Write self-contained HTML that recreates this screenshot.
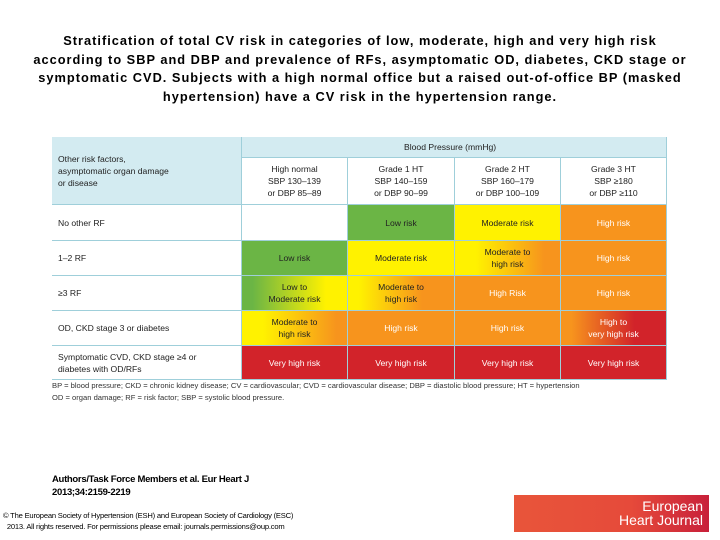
<!DOCTYPE html>
<html><head><meta charset="utf-8"><style>
body{margin:0;width:720px;height:540px;background:#fff;position:relative;overflow:hidden;font-family:"Liberation Sans",sans-serif}
.t{position:absolute;left:0;width:720px;top:32px;text-align:center;font-weight:bold;font-size:12.8px;letter-spacing:1px;line-height:18.5px;color:#000;white-space:nowrap}
.c{position:absolute;box-sizing:border-box;display:flex;align-items:center;justify-content:center;text-align:center;font-size:8.6px;line-height:12px;color:#222;border-right:1px solid #9fcfda;border-bottom:1px solid #9fcfda}
.l{justify-content:flex-start;text-align:left;padding-left:6px}
.w{color:#fff}
.fn{position:absolute;left:52px;font-size:7.6px;color:#333}
</style></head><body>
<div class="t">Stratification of total CV risk in categories of low, moderate, high and very high risk<br>according to SBP and DBP and prevalence of RFs, asymptomatic OD, diabetes, CKD stage or<br>symptomatic CVD. Subjects with a high normal office but a raised out-of-office BP (masked<br>hypertension) have a CV risk in the hypertension range.</div>
<div style="position:absolute;left:52px;top:137px;width:615px;height:243px;border-top:1px solid #9fcfda;border-left:1px solid #9fcfda;box-sizing:border-box"></div>
<div id="tbl"></div>
<div class="fn" style="top:381px">BP = blood pressure; CKD = chronic kidney disease; CV = cardiovascular; CVD = cardiovascular disease; DBP = diastolic blood pressure; HT = hypertension</div>
<div class="fn" style="top:393px">OD = organ damage; RF = risk factor; SBP = systolic blood pressure.</div>
<div style="position:absolute;left:52px;top:473px;font-size:9.5px;font-weight:bold;line-height:13px;letter-spacing:-0.3px">Authors/Task Force Members et al. Eur Heart J<br>2013;34:2159-2219</div>
<div style="position:absolute;left:3px;top:510px;font-size:7.6px;line-height:11px;letter-spacing:-0.2px">© The European Society of Hypertension (ESH) and European Society of Cardiology (ESC)<br>&nbsp;&nbsp;2013. All rights reserved. For permissions please email: journals.permissions@oup.com</div>
<div style="position:absolute;left:514px;top:495px;width:195px;height:37px;background:linear-gradient(90deg,#e8553a,#e64a3a 60%,#c8203a);color:#fff;font-size:14px;line-height:14px;text-align:right;box-sizing:border-box;padding:4px 6px 0 0">European<br>Heart Journal</div>
<script>
const cols=[52,242,348,455,561,667];
const rows=[158,205,241,276,311,346,380];
const G='#6bb545',Y='#fff200',O='#f7941d',R='#d2232a';
const rowLabels=['No other RF','1–2 RF','≥3 RF','OD, CKD stage 3 or diabetes','Symptomatic CVD, CKD stage ≥4 or<br>diabetes with OD/RFs'];
const colHeads=['High normal<br>SBP 130–139<br>or DBP 85–89','Grade 1 HT<br>SBP 140–159<br>or DBP 90–99','Grade 2 HT<br>SBP 160–179<br>or DBP 100–109','Grade 3 HT<br>SBP ≥180<br>or DBP ≥110'];
const cells=[
[['','#fff'],['Low risk',G],['Moderate risk',Y],['High risk',O,1]],
[['Low risk',G],['Moderate risk',Y],['Moderate to<br>high risk',`linear-gradient(90deg,${Y} 20%,${O} 85%)`],['High risk',O,1]],
[['Low to<br>Moderate risk',`linear-gradient(90deg,${G} 10%,${Y} 80%)`],['Moderate to<br>high risk',`linear-gradient(90deg,${Y} 10%,${O} 70%)`],['High Risk',O,1],['High risk',O,1]],
[['Moderate to<br>high risk',`linear-gradient(90deg,${Y} 20%,${O} 90%)`],['High risk',O,1],['High risk',O,1],['High to<br>very high risk',`linear-gradient(90deg,${O} 10%,${R} 70%)`,1]],
[['Very high risk',R,1],['Very high risk',R,1],['Very high risk',R,1],['Very high risk',R,1]]];
const tb=document.getElementById('tbl');
function mk(x,y,w,h,html,bg,cls){const d=document.createElement('div');d.className='c '+(cls||'');d.style.cssText=`left:${x}px;top:${y}px;width:${w}px;height:${h}px;background:${bg}`;d.innerHTML=html;tb.appendChild(d);return d;}
let e=mk(cols[0],137,cols[1]-cols[0],rows[1]-137,'Other risk factors,<br>asymptomatic organ damage<br>or disease','#d3ebf1','l');


e=mk(cols[1],137,cols[5]-cols[1],21,'Blood Pressure (mmHg)','#d3ebf1');
e.style.justifyContent='flex-start';e.style.paddingLeft='162px';


colHeads.forEach((h,i)=>{const d=mk(cols[i+1],rows[0],cols[i+2]-cols[i+1],rows[1]-rows[0],h,'#fff');

});
rowLabels.forEach((l,r)=>{const d=mk(cols[0],rows[r+1],cols[1]-cols[0],rows[r+2]-rows[r+1],l,'#fff','l');


cells[r].forEach((c,i)=>{const q=mk(cols[i+1],rows[r+1],cols[i+2]-cols[i+1],rows[r+2]-rows[r+1],c[0],c[1],c[2]?'w':'');

});});
</script>
</body></html>
